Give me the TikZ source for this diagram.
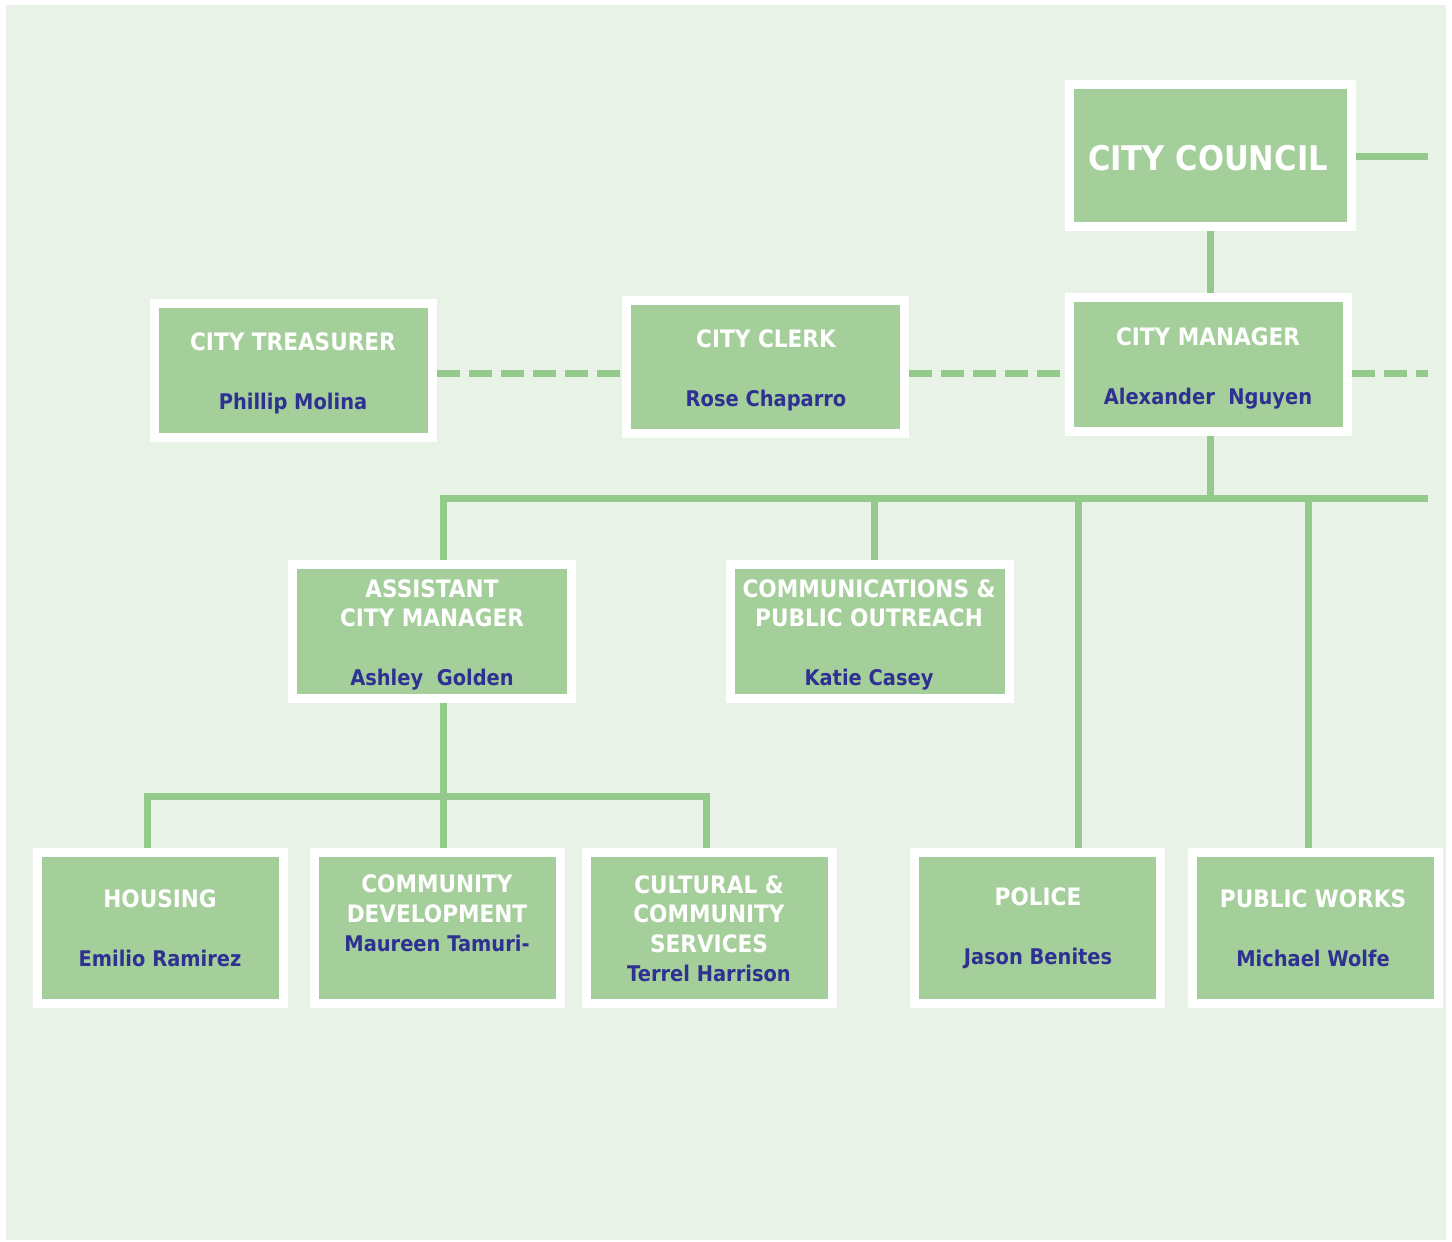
\documentclass[tikz,border=0pt]{standalone}
\usepackage{fontspec}
\newfontfamily\orgfont{DejaVu Sans}[FakeStretch=0.9]
\definecolor{bgc}{HTML}{E8F2E6}
\definecolor{boxc}{HTML}{A5CF9A}
\definecolor{linec}{HTML}{93C98A}
\definecolor{namec}{HTML}{2E3192}
\newcommand{\nm}[1]{{\fontsize{10.8}{14.75}\selectfont\textcolor{namec}{#1}}}
\begin{document}
\begin{tikzpicture}[x=0.5pt,y=-0.5pt,
  box/.style={draw=white,line width=4.5pt,fill=boxc,inner sep=0pt},
  ttl/.style={font=\orgfont\bfseries\fontsize{12}{14.75}\selectfont,text=white,align=center,inner sep=0pt},
  conn/.style={draw=linec,line width=3.5pt,line join=miter},
  dashlink/.style={conn,dash pattern=on 11.5pt off 4.5pt}]
\useasboundingbox (0,0) rectangle (1452,1242);
\fill[white] (0,0) rectangle (1452,1242);
\fill[bgc] (6,5) rectangle (1446,1240);

% boxes
\node[box,minimum width=141pt,minimum height=71pt] (cc) at (1210.5,155.5) {};
\node[box,minimum width=139pt,minimum height=67pt] (cm) at (1208.5,364.5) {};
\node[box,minimum width=139pt,minimum height=67pt] (ct) at (293.5,370.5) {};
\node[box,minimum width=139pt,minimum height=66.5pt] (clerk) at (765.5,367) {};
\node[box,minimum width=139.5pt,minimum height=67pt] (acm) at (432,631.5) {};
\node[box,minimum width=139.5pt,minimum height=67pt] (comm) at (870,631.5) {};
\node[box,minimum width=123pt,minimum height=75.5pt] (housing) at (160.5,928) {};
\node[box,minimum width=123pt,minimum height=75.5pt] (cd) at (437,928) {};
\node[box,minimum width=123pt,minimum height=75.5pt] (cult) at (709,928) {};
\node[box,minimum width=123pt,minimum height=75.5pt] (police) at (1037.5,928) {};
\node[box,minimum width=123pt,minimum height=75.5pt] (pw) at (1315.5,928) {};

% texts
\node[ttl,font=\orgfont\bfseries\fontsize{17}{20}\selectfont] (tcc) at (1208,158) {CITY COUNCIL};
\node[ttl] (tct) at (293,373) {CITY TREASURER\\[14.75pt]\nm{Phillip Molina}};
\node[ttl] (tclerk) at (766,370.5) {CITY CLERK\\[14.75pt]\nm{Rose Chaparro}};
\node[ttl] (tcm) at (1208,368.5) {CITY MANAGER\\[14.75pt]\nm{Alexander\ \ Nguyen}};
\node[ttl] (tacm) at (432,635) {ASSISTANT\\CITY MANAGER\\[14.75pt]\nm{Ashley\ \ Golden}};
\node[ttl] (tcomm) at (869,635) {COMMUNICATIONS \&\\PUBLIC OUTREACH\\[14.75pt]\nm{Katie Casey}};
\node[ttl] (thousing) at (160,928.5) {HOUSING\\[14.75pt]\nm{Emilio Ramirez}};
\node[ttl] (tcd) at (437,913.5) {COMMUNITY\\DEVELOPMENT\\\nm{Maureen Tamuri-}};
\node[ttl] (tcult) at (709,928.5) {CULTURAL \&\\COMMUNITY\\SERVICES\\\nm{Terrel Harrison}};
\node[ttl] (tpolice) at (1038,928.5) {POLICE\\[14.75pt]\nm{Jason Benites}};
\node[ttl] (tpw) at (1313,928.5) {PUBLIC WORKS\\[14.75pt]\nm{Michael Wolfe}};

% coordinates for free ends and bus lines
\coordinate (ccR) at (1428,156);
\coordinate (yDash) at (0,373);
\coordinate (cmR) at (1428,373);
\coordinate (busL) at (443,498);
\coordinate (busR) at (1428,498);
\coordinate (dC) at (874,498);
\coordinate (dP) at (1078,498);
\coordinate (dW) at (1308,498);
\coordinate (b2L) at (147,796);
\coordinate (b2R) at (706,796);

% connectors
\draw[conn] (cc.east |- ccR) -- (ccR);
\draw[conn] (cc.south) -- (cc.south |- cm.north);
\draw[dashlink] (ct.east |- yDash) -- (clerk.west |- yDash);
\draw[dashlink] (clerk.east |- yDash) -- (cm.west |- yDash);
\draw[dashlink] (cm.east |- yDash) -- (cmR);
\draw[conn] (cm.south -| cc.south) -- (cc.south |- busR);
\draw[conn] (busL |- acm.north) -- (busL) -- (busR);
\draw[conn] (dC) -- (dC |- comm.north);
\draw[conn] (dP) -- (dP |- police.north);
\draw[conn] (dW) -- (dW |- pw.north);
\draw[conn] (busL |- acm.south) -- (busL |- cd.north);
\draw[conn] (b2L |- housing.north) -- (b2L) -- (b2R) -- (b2R |- cult.north);
\end{tikzpicture}
\end{document}
